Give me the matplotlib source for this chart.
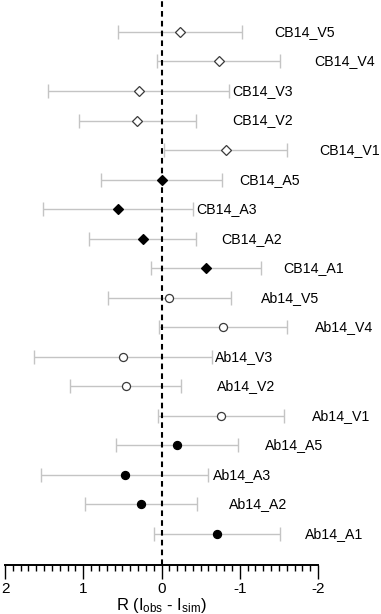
import matplotlib
matplotlib.use("Agg")
import matplotlib.pyplot as plt
from matplotlib.ticker import MultipleLocator

plt.rcParams['font.family'] = ['Liberation Sans', 'DejaVu Sans']
plt.rcParams['mathtext.default'] = 'regular'

labels = ["CB14_V5", "CB14_V4", "CB14_V3", "CB14_V2", "CB14_V1",
          "CB14_A5", "CB14_A3", "CB14_A2", "CB14_A1",
          "Ab14_V5", "Ab14_V4", "Ab14_V3", "Ab14_V2", "Ab14_V1",
          "Ab14_A5", "Ab14_A3", "Ab14_A2", "Ab14_A1"]
values = [-0.24, -0.73, 0.29, 0.31, -0.82,
          0.00, 0.56, 0.24, -0.57,
          -0.10, -0.79, 0.49, 0.46, -0.76,
          -0.20, 0.47, 0.26, -0.71]
errors = [0.79, 0.79, 1.155, 0.75, 0.79,
          0.77, 0.96, 0.685, 0.705,
          0.79, 0.82, 1.135, 0.705, 0.81,
          0.78, 1.07, 0.715, 0.80]
# x position (data units) of each label's left edge
label_x = [-1.44, -1.95, -0.91, -0.90, -2.02,
           -1.00, -0.45, -0.76, -1.56,
           -1.27, -1.96, -0.68, -0.71, -1.92,
           -1.32, -0.66, -0.86, -1.83]
xticks = [2, 1, 0, -1, -2]

styles = {
    "CB14_V": dict(marker='D', mfc='white', mec='#3a3a3a', ms=5.0),
    "CB14_A": dict(marker='D', mfc='black', mec='black', ms=5.0),
    "Ab14_V": dict(marker='o', mfc='white', mec='#3a3a3a', ms=5.8),
    "Ab14_A": dict(marker='o', mfc='black', mec='black', ms=5.8),
}

fig = plt.figure(figsize=(3.81, 6.14), dpi=100)
ax = fig.add_axes([5/381, 49/614, 313/381, 565/614])

n = len(labels)
for i, (lab, v, e, lx) in enumerate(zip(labels, values, errors, label_x)):
    y = n - 1 - i
    ax.errorbar([v], [y], xerr=[e], fmt='none', ecolor='#c4c4c4',
                elinewidth=1.0, capsize=5, capthick=1.0, zorder=1)
    st = styles[lab[:6]]
    ax.plot([v], [y], linestyle='none', marker=st['marker'], mfc=st['mfc'],
            mec=st['mec'], ms=st['ms'], mew=0.9, zorder=3)
    ax.text(lx, y, lab, ha='left', va='center', fontsize=10.2, clip_on=False)

ax.axvline(0, color='black', lw=1.5, linestyle=(0, (2.7, 2.0)), zorder=2)

ax.set_xlim(2, -2)
ax.set_ylim(-1.05, 18.08)
for s in ['left', 'right', 'top']:
    ax.spines[s].set_visible(False)
ax.spines['bottom'].set_linewidth(1.4)
ax.set_yticks([])
ax.set_xticks(xticks)
ax.set_xticklabels([str(t) for t in xticks])
ax.xaxis.set_minor_locator(MultipleLocator(0.1))
ax.tick_params(axis='x', which='major', length=10, width=1.0, labelsize=11, pad=2.5)
ax.tick_params(axis='x', which='minor', length=4.3, width=1.0)
ax.set_xlabel('R (I$_{obs}$ - I$_{sim}$)', fontsize=12, labelpad=0)
ax.patch.set_alpha(0)

fig.savefig('out.png', dpi=100)
